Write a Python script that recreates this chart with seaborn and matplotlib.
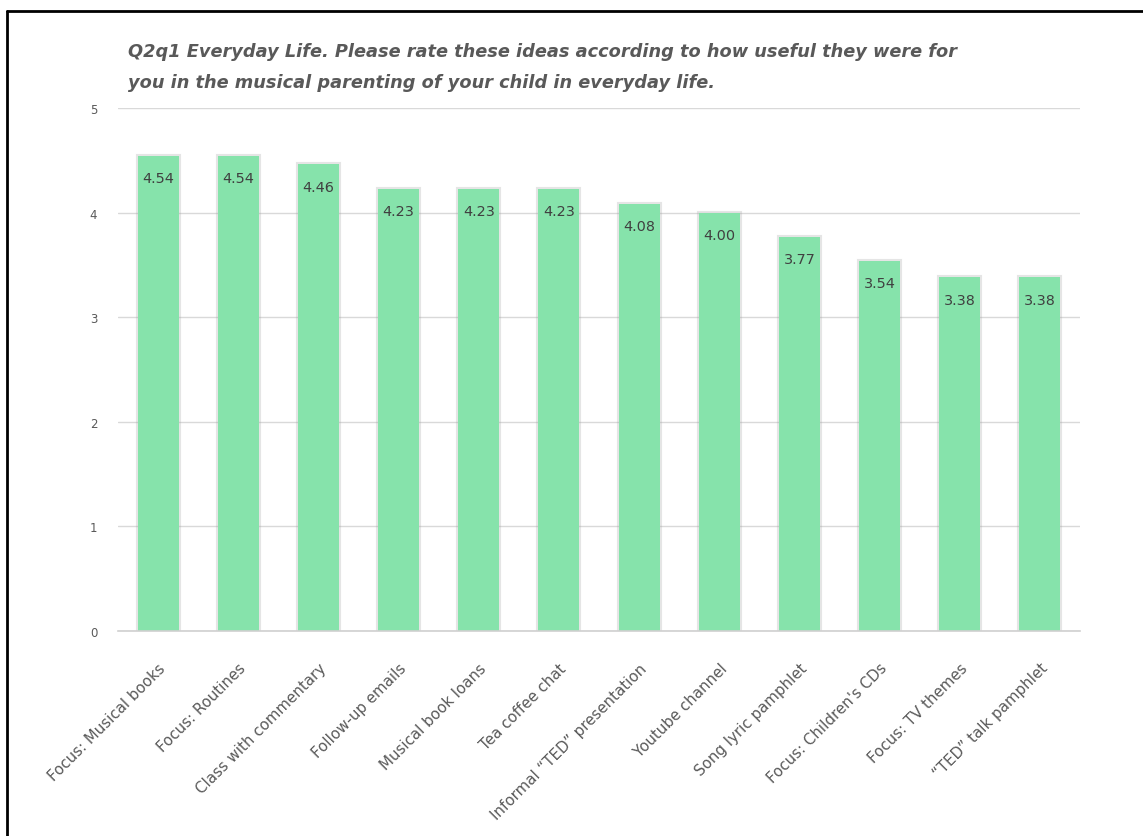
import matplotlib
matplotlib.use("Agg")
import matplotlib.pyplot as plt
import seaborn as sns
from matplotlib.lines import Line2D
import matplotlib.patheffects as pe

categories = ["Focus: Musical books", "Focus: Routines", "Class with commentary",
              "Follow-up emails", "Musical book loans", "Tea coffee chat",
              "Informal \u201cTED\u201d presentation", "Youtube channel",
              "Song lyric pamphlet", "Focus: Children's CDs", "Focus: TV themes",
              "\u201cTED\u201d talk pamphlet"]
values = [4.54, 4.54, 4.46, 4.23, 4.23, 4.23, 4.08, 4.00, 3.77, 3.54, 3.38, 3.38]
yticks = [0, 1, 2, 3, 4, 5]
title = ("Q2q1 Everyday Life. Please rate these ideas according to how useful they were for\n"
         "you in the musical parenting of your child in everyday life.")

sns.set_theme(style="white")
plt.rcParams['font.family'] = ['DejaVu Sans']

fig = plt.figure(figsize=(11.43, 8.37), dpi=100)
ax = fig.add_axes([118/1143, 1-632/837, (1080-118)/1143, (632-109)/837])

sns.barplot(x=categories, y=values, color="#86e3ab", saturation=1, width=0.51, ax=ax,
            edgecolor="none")
for p in ax.patches:
    p.set_path_effects([pe.Stroke(linewidth=3, foreground="#9a9a9a", alpha=0.25), pe.Normal()])

ax.set_ylim(0, 5)
ax.set_xlim(-0.5, 11.5)
ax.set_yticks(yticks)
ax.grid(axis="y", color="#d9d9d9", linewidth=1)
ax.set_axisbelow(True)
for s in ["top", "right", "left"]:
    ax.spines[s].set_visible(False)
ax.spines["bottom"].set_color("#d0d0d0")
ax.spines["bottom"].set_linewidth(1.2)
ax.tick_params(axis="y", length=0, pad=15, labelsize=8.5, labelcolor="#595959")
ax.tick_params(axis="x", length=0, pad=21, labelsize=10.8, labelcolor="#595959")
plt.setp(ax.get_xticklabels(), rotation=45, ha="right", rotation_mode="anchor")
ax.set_xlabel("")
ax.set_ylabel("")

for i, v in enumerate(values):
    ax.annotate(f"{v:.2f}", xy=(i, v), xytext=(0, -16), textcoords="offset points",
                ha="center", va="center", fontsize=10.4, color="#404040")

fig.text(128/1143, 1-67.5/837, title, ha="left", va="center", fontsize=12.8,
         fontweight="bold", fontstyle="italic", color="#595959", linespacing=1.95)

fig.add_artist(Line2D([7/1143, 1], [1-12/837, 1-12/837], color="black", linewidth=2))
fig.add_artist(Line2D([7/1143, 7/1143], [0, 1-12/837], color="black", linewidth=2))

fig.savefig("out.png", dpi=100)
